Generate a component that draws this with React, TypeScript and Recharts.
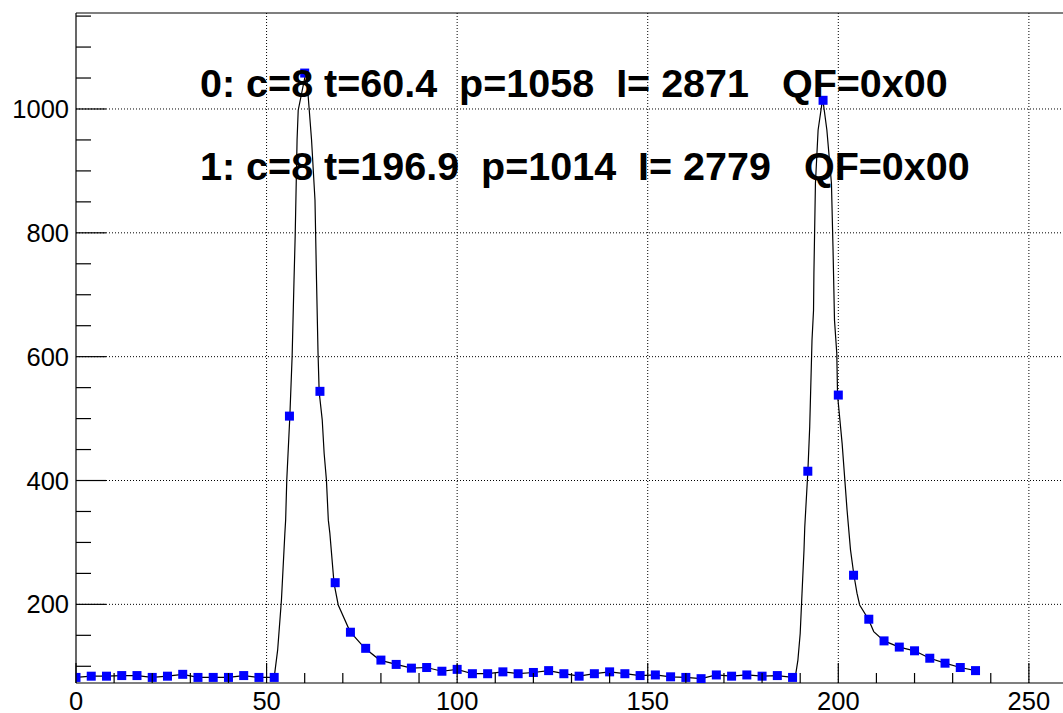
import React from 'react';
import { ComposedChart, Line, Scatter, XAxis, YAxis, CartesianGrid, ReferenceLine } from 'recharts';

// sampled pulse: one sample every 4 time units
const sampleTimes = [
  0, 4, 8, 12, 16, 20, 24, 28, 32, 36, 40, 44, 48, 52, 56, 60, 64, 68, 72, 76,
  80, 84, 88, 92, 96, 100, 104, 108, 112, 116, 120, 124, 128, 132, 136, 140, 144, 148, 152, 156,
  160, 164, 168, 172, 176, 180, 184, 188, 192, 196, 200, 204, 208, 212, 216, 220, 224, 228, 232, 236,
];
const adcValues = [
  82, 84, 84, 85, 85, 82, 84, 87, 82, 82, 82, 85, 82, 82, 504, 1058, 544, 235, 155, 129,
  110, 103, 97, 98, 92, 95, 88, 88, 91, 88, 90, 93, 88, 84, 88, 91, 88, 85, 86, 83,
  82, 80, 86, 84, 86, 84, 85, 82, 415, 1014, 538, 247, 176, 141, 131, 125, 113, 105, 98, 93,
];

// fitted curve around the two pulses
const pulse0Times = [
  52, 52.9, 53.9, 54.8, 55.0, 55.3, 56.1, 56.7, 57.2, 57.5, 58.0, 58.3, 60.4,
  61.2, 61.8, 62.7, 63.1, 63.5, 63.8, 64.6, 65.1, 65.7, 66.2, 66.6, 67.7, 68.8, 71.9, 75.8, 79.7, 84,
];
const pulse0Values = [
  82, 126, 207, 315, 336, 401, 503, 600, 724, 794, 950, 998, 1062,
  998, 950, 853, 724, 606, 543, 498, 444, 401, 336, 315, 234, 199, 156, 129, 110, 103,
];
const pulse1Times = [
  188, 188.8, 189.4, 190.0, 190.4, 191.0, 191.2, 192.0, 192.5, 193.1, 193.5, 193.6, 194.0, 194.7, 195.9,
  197.0, 198.2, 198.6, 199.0, 199.6, 199.8, 201.0, 202.3, 203.2, 204.1, 204.9, 205.6, 207.9, 209.3, 212,
];
const pulse1Values = [
  82, 86, 110, 153, 207, 288, 325, 413, 487, 627, 675, 735, 880, 966, 1017,
  966, 880, 778, 659, 605, 538, 460, 352, 288, 247, 218, 199, 176, 156, 141,
];

const xTicks = [0, 10, 20, 30, 40, 50, 60, 70, 80, 90, 100, 110, 120, 130, 140, 150, 160, 170, 180, 190, 200, 210, 220, 230, 240, 250, 260];
const xLabelTicks = [0, 50, 100, 150, 200, 250];
const yTicks = [100, 150, 200, 250, 300, 350, 400, 450, 500, 550, 600, 650, 700, 750, 800, 850, 900, 950, 1000, 1050, 1100, 1150];
const yLabelTicks = [200, 400, 600, 800, 1000];

const fitLabels = [
  '0: c=8 t=60.4  p=1058  I= 2871   QF=0x00',
  '1: c=8 t=196.9  p=1014  I= 2779   QF=0x00',
];

const points = sampleTimes.map((t, i) => ({ x: t, y: adcValues[i] }));
const pulse0 = pulse0Times.map((t, i) => ({ x: t, y: pulse0Values[i] }));
const pulse1 = pulse1Times.map((t, i) => ({ x: t, y: pulse1Values[i] }));
const inPulse = (x: number) => (x >= 52 && x <= 84) || (x >= 188 && x <= 212);
const fitCurve = [...points.filter(p => !inPulse(p.x)), ...pulse0, ...pulse1].sort((a, b) => a.x - b.x);

const font = '"Liberation Sans", Arial, Helvetica, sans-serif';

const XTick = (props: any) => {
  const { x, y, payload } = props;
  const major = xLabelTicks.includes(payload.value);
  return (
    <g>
      <line x1={x} x2={x} y1={y} y2={y - (major ? 20 : 10)} stroke="#000" strokeWidth={1.2} />
      {major && (
        <text x={x} y={y + 27} textAnchor="middle" fontFamily={font} fontSize={25.5} fill="#000">
          {payload.value}
        </text>
      )}
    </g>
  );
};

const YTick = (props: any) => {
  const { x, y, payload } = props;
  const major = yLabelTicks.includes(payload.value);
  return (
    <g>
      <line x1={x} x2={x + (major ? 30 : 15)} y1={y} y2={y} stroke="#000" strokeWidth={1.2} />
      {major && (
        <text x={x - 7} y={y + 9} textAnchor="end" fontFamily={font} fontSize={25.5} fill="#000">
          {payload.value}
        </text>
      )}
    </g>
  );
};

const SquareDot = (props: any) => {
  const { cx, cy } = props;
  if (cx == null || cy == null) return null;
  return <rect x={cx - 4.5} y={cy - 4.5} width={9} height={9} fill="#0000ff" />;
};

export default function App() {
  return (
    <div style={{ position: 'absolute', left: 0, top: 0, width: 1063, height: 713, overflow: 'hidden', background: '#fff' }}>
      <ComposedChart width={1080} height={713} margin={{ top: 13, right: 13, bottom: 0, left: 0 }}>
        <CartesianGrid
          horizontalValues={yLabelTicks}
          verticalValues={[50, 100, 150, 200, 250]}
          stroke="#000"
          strokeDasharray="1 2"
        />
        <XAxis
          type="number"
          dataKey="x"
          domain={[0, 260]}
          allowDataOverflow
          ticks={xTicks}
          interval={0}
          tickSize={0}
          tickMargin={0}
          tickLine={false}
          tick={XTick}
          height={30}
          axisLine={{ stroke: '#000', strokeWidth: 1.2 }}
        />
        <YAxis
          type="number"
          domain={[73, 1155]}
          allowDataOverflow
          ticks={yTicks}
          interval={0}
          tickSize={0}
          tickMargin={0}
          tickLine={false}
          tick={YTick}
          width={76}
          axisLine={{ stroke: '#000', strokeWidth: 1.2 }}
        />
        <ReferenceLine y={1155} stroke="#000" strokeWidth={1.2} />
        <ReferenceLine x={260} stroke="#000" strokeWidth={1.2} />
        <Line
          data={fitCurve}
          dataKey="y"
          type="linear"
          stroke="#000"
          strokeWidth={1.2}
          dot={false}
          activeDot={false}
          isAnimationActive={false}
        />
        <Scatter data={points} dataKey="y" shape={SquareDot} isAnimationActive={false} />
      </ComposedChart>
      {fitLabels.map((label, i) => (
        <div
          key={label}
          style={{
            position: 'absolute',
            left: 200,
            top: 63.6 + i * 83,
            fontFamily: font,
            fontWeight: 'bold',
            fontSize: 39.5,
            lineHeight: 1,
            whiteSpace: 'pre',
            color: '#000',
          }}
        >
          {label}
        </div>
      ))}
    </div>
  );
}
